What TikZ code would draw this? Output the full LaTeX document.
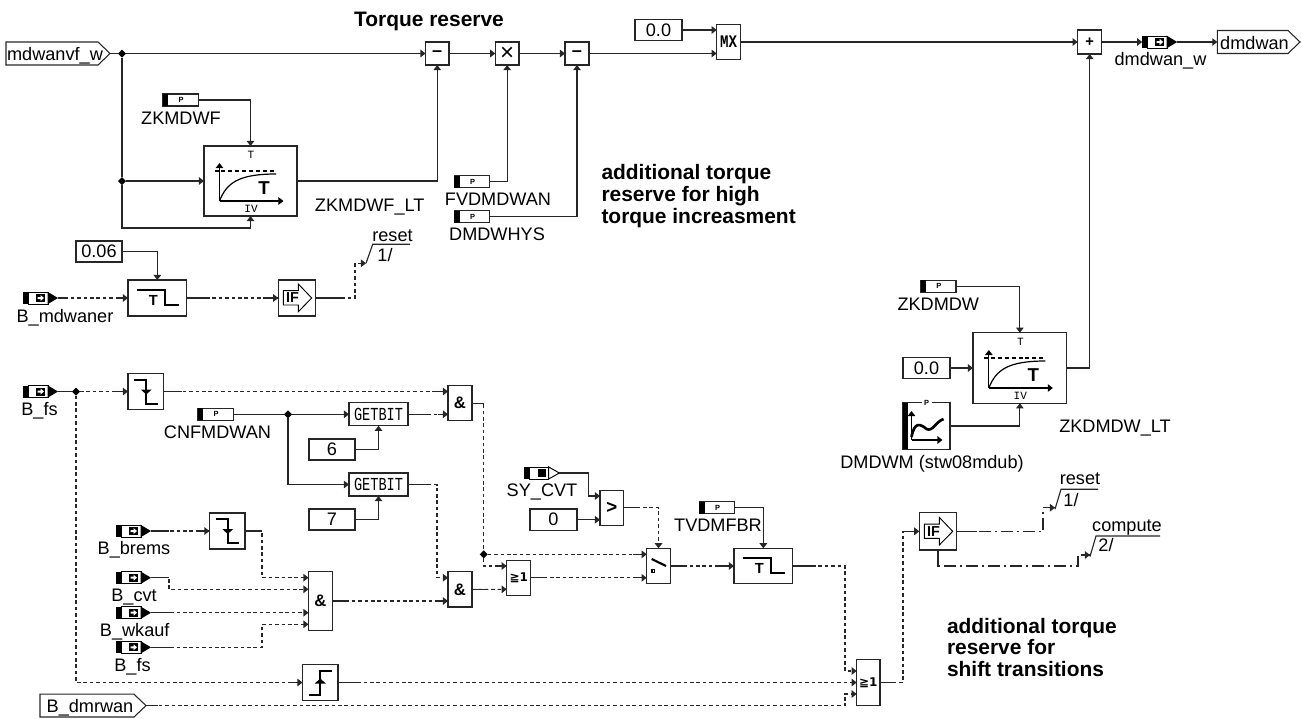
\documentclass[tikz,border=0pt]{standalone}
\usepackage{graphicx}
\usepackage{fontspec}
\setmainfont{Liberation Sans}
\newfontfamily\monof{Liberation Mono}
\newfontfamily\dvf{DejaVu Sans}
\usetikzlibrary{arrows.meta,shapes.geometric}
\def\pxu{0.75pt}
\tikzset{
  wire/.style={line width=0.85pt,draw=black!85},
  arr/.style={-{Triangle[length=3.8pt,width=5.6pt]}},
  dsh/.style={wire,dash pattern=on 2.7pt off 2.1pt},
  dlab/.style={inner sep=0pt,outer sep=0pt,anchor=base,font=\fontsize{13.6pt}{16pt}\selectfont},
  btxt/.style={inner sep=0pt,outer sep=0pt,anchor=base west,align=left,font=\fontsize{15.7pt}{16.3pt}\selectfont\bfseries},
  box/.style={draw=black!85,line width=0.85pt,inner sep=0pt,outer sep=0pt,fill=white,font=\fontsize{13.6pt}{16pt}\selectfont},
  nobox/.style={inner sep=0pt,outer sep=0pt,minimum width=35*\pxu,minimum height=12*\pxu},
  jn/.style={diamond,fill=black,inner sep=0pt,outer sep=0pt,minimum width=8*\pxu,minimum height=8*\pxu},
  tiny glyph/.style={inner sep=0pt,outer sep=0pt},
  thk/.style={line width=1.5pt,draw=black},
  lbl/.style={inner sep=0pt,outer sep=0pt,font=\fontsize{8.3pt}{10pt}\selectfont\monof}
}
\newcommand\gbt{\fontsize{10.2pt}{12pt}\selectfont\monof\scalebox{1}[1.35]{GETBIT}}
\newcommand\ampg{\fontsize{12.5pt}{13pt}\selectfont\bfseries\&}
% rectangle block: name x1 y1 x2 y2 content
\newcommand\blk[6]{\node[box,minimum width={(#4-#2)*\pxu},minimum height={(#5-#3)*\pxu}] (#1) at ({(#2+#4)/2},{(#3+#5)/2}) {#6};}
% text label: name cx baseline text
\newcommand\lab[4]{\node[dlab] (#1) at (#2,#3) {#4};}
% parameter symbol
\newcommand\parm[3]{\node[box,minimum width=35.5*\pxu,minimum height=12*\pxu] (#1) at (#2,#3) {};
  \begin{scope}[shift={(#1.center)}]
    \fill[black] (-17.75,-6) rectangle (-12.5,6);
    \node[tiny glyph,font=\fontsize{5.6pt}{6pt}\selectfont\bfseries] (#1-p) at (0.5,0) {P};
  \end{scope}}
% variable symbol
\newcommand\varb[3]{\node[nobox] (#1) at (#2,#3) {};
  \begin{scope}[shift={(#1.center)}]
    \fill[black] (-17.5,-6) rectangle (-12.5,6);
    \draw[line width=0.7pt,fill=white] (-12.5,-6) rectangle (7.5,6);
    \fill[black] (7,-6.3) -- (17.5,0) -- (7,6.3) -- cycle;
    \fill[black] (-4.5,-4) rectangle (4.5,4);
    \fill[white] (-3,-1) -- (0,-1) -- (0,-3) -- (3.5,0) -- (0,3) -- (0,1) -- (-3,1) -- cycle;
  \end{scope}}
% outlined tag with pointed right end
\newcommand\tagg[5]{\node[inner sep=0pt,outer sep=0pt,minimum width={(#4-#2)*\pxu},minimum height={(#5-#3)*\pxu}] (#1) at ({(#2+#4)/2},{(#3+#5)/2}) {};
  \draw[line width=0.8pt,draw=black!85] (#1.north west) -- ([xshift=-9pt]#1.north east) -- (#1.east) -- ([xshift=-9pt]#1.south east) -- (#1.south west) -- cycle;}
% lag glyph
\newcommand\ltg[1]{\begin{scope}[shift={(#1.center)}]
   \draw[line width=0.8pt,arr] (-31,20) -- (-31,-18);
   \draw[line width=0.8pt,arr] (-31,20) -- (33,20);
   \draw[line width=0.8pt,dash pattern=on 3pt off 2.2pt] (-36,-10) -- (26,-10);
   \draw[line width=0.9pt] (-31,20) .. controls (-24,2) and (-12,-7) .. (25.5,-7);
   \node[tiny glyph,font=\fontsize{14pt}{14pt}\selectfont\bfseries] (#1-bt) at (13.5,7.5) {T};
   \node[lbl] (#1-t) at (0.5,-26) {T};
   \node[lbl] (#1-iv) at (0.5,28) {IV};
  \end{scope}}
% timer glyph
\newcommand\tmg[1]{\begin{scope}[shift={(#1.center)}]
   \draw[thk] (-20,-8) -- (8,-8) -- (8,7) -- (22,7);
   \node[tiny glyph,font=\fontsize{11pt}{11pt}\selectfont\bfseries] (#1-t) at (-4,2) {T};
  \end{scope}}
% falling / rising edge glyphs
\newcommand\fallg[1]{\begin{scope}[shift={(#1.center)}]
   \draw[thk] (-11.5,-12) -- (0.5,-12) -- (0.5,12) -- (12,12);
   \fill[black] (-5,-2) -- (6,-2) -- (0.5,3) -- cycle;
  \end{scope}}
\newcommand\riseg[1]{\begin{scope}[shift={(#1.center)}]
   \draw[thk] (-11.5,12) -- (0,12) -- (0,-12) -- (12,-12);
   \fill[black] (0,-4) -- (-5.5,1) -- (5.5,1) -- cycle;
  \end{scope}}
% IF glyph
\newcommand\ifg[1]{\begin{scope}[shift={(#1.center)}]
   \draw[line width=0.7pt] (-13.7,-7.3) -- (1.3,-7.3) -- (1.3,-14) -- (14.7,0) -- (1.3,13.7) -- (1.3,7) -- (-13.7,7) -- cycle;
   \node[tiny glyph,font=\fontsize{10.8pt}{11pt}\selectfont\bfseries] (#1-t) at (-4.5,0) {IF};
  \end{scope}}
% solid stubs at the start and end of a dashed horizontal wire
\newcommand\stb[4]{\draw[wire] (#1) -- ++(#2,0); \draw[wire] (#3) ++(-#4,0) -- (#3);}
\begin{document}
\begin{tikzpicture}[x=0.75pt,y=-0.75pt]
\useasboundingbox (0,0) rectangle (1302,718);

% ---------- top row
\tagg{mdw}{6}{42}{110}{65}
\node[dlab] (mdw-t) at (55,60) {mdwanvf\_w};
\node[jn] (j1) at (122,53.5) {};
\node[jn] (j2) at (122,181) {};
\blk{sub1}{425.5}{42}{449}{65}{\bfseries –}
\blk{mul}{495.3}{42}{519}{65}{\fontsize{18pt}{18pt}\selectfont ×}
\blk{sub2}{565}{42}{589}{65}{\bfseries –}
\blk{mx}{716.7}{24.5}{740.7}{59.5}{\fontsize{10.6pt}{12pt}\selectfont\monof\bfseries\scalebox{1}[1.25]{MX}}
\blk{c00}{635}{19.5}{682}{40.5}{0.0}
\coordinate (mx-a) at (716.7,30);
\coordinate (mx-b) at (716.7,53.5);
\blk{add}{1077.7}{30}{1101.7}{54}{\fontsize{11pt}{12pt}\selectfont\bfseries +}
\varb{dw}{1159.7}{42}
\lab{dw-l}{1160.5}{65.3}{dmdwan\_w}
\tagg{dwo}{1217.3}{30.5}{1300}{53.5}
\node[dlab] (dwo-t) at (1254.5,49) {dmdwan};
\node[btxt,anchor=base] (title) at (429,26) {Torque reserve};

\blk{lt}{204}{146}{297}{216}{}
\ltg{lt}
\parm{zkf}{180.5}{100}
\lab{zkf-l}{181}{124}{ZKMDWF}
\lab{lt-l}{369.7}{211}{ZKMDWF\_LT}
\parm{fv}{472}{181.5}
\lab{fv-l}{498}{205.7}{FVDMDWAN}
\parm{hy}{472}{216.7}
\lab{hy-l}{497}{240.5}{DMDWHYS}
\node[btxt] (note1) at (601.5,223) {additional torque\\reserve for high\\torque increasment};

\draw[wire] (mdw.east) -- (j1);
\draw[wire,arr] (j1) -- (sub1.west);
\draw[wire] (j1) -- (j2);
\draw[wire,arr] (j2) -- (lt.west);
\coordinate (lt-low) at (250.5,228);
\draw[wire,arr] (j2) |- (lt-low) -- (lt.south);
\draw[wire,arr] (zkf.east) -| (lt.north);
\draw[wire,arr] (lt.east) -| (sub1.south);
\draw[wire,arr] (sub1.east) -- (mul.west);
\draw[wire,arr] (mul.east) -- (sub2.west);
\draw[wire,arr] (fv.east) -| (mul.south);
\draw[wire,arr] (hy.east) -| (sub2.south);
\draw[wire,arr] (c00.east) -- (mx-a);
\draw[wire,arr] (sub2.east) -- (mx-b);
\draw[wire,arr] (mx.east) -- (add.west);
\draw[wire,arr] (add.east) -- (dw.west);
\draw[wire,arr] (dw.east) -- (dwo.west);

% ---------- reset line
\blk{c06}{76}{241}{122}{262}{0.06}
\varb{bm}{40.5}{298}
\lab{bm-l}{65}{322}{B\_mdwaner}
\blk{tm1}{128}{280}{186.7}{316}{}
\tmg{tm1}
\blk{if1}{278.3}{280}{315.7}{316}{}
\ifg{if1}
\coordinate (r1) at (366,263.3);
\draw[wire,arr] (c06.east) -| (tm1.north);
\draw[dsh,arr] (bm.east) -- (tm1.west);
\stb{bm.east}{10}{tm1.west}{12}
\draw[dsh,arr] (tm1.east) -- (if1.west);
\stb{tm1.east}{20}{if1.west}{15}
\draw[dsh,arr] (if1.east) -- ++(39.3,0) |- (r1);
\draw[wire] (if1.east) -- ++(28,0);
\draw[wire] (r1) -- (372.7,244.3) -- (410,244.3);
\lab{r1-t}{392.5}{241}{reset}
\lab{r1-n}{385}{261.5}{1/}

% ---------- right lag block
\blk{lt2}{973}{332.7}{1066.7}{403.3}{}
\ltg{lt2}
\parm{zkd}{938.3}{286.3}
\lab{zkd-l}{938.3}{310}{ZKDMDW}
\lab{lt2-l}{1115}{432}{ZKDMDW\_LT}
\blk{c0r}{903}{357.5}{950}{378.5}{0.0}
\blk{map}{903}{402.7}{950}{449.3}{}
\begin{scope}[shift={(map.center)}]
  \fill[black] (-23.5,-23.3) rectangle (-19,23.3);
  \node[tiny glyph,fill=white,inner xsep=2pt,font=\fontsize{5.6pt}{6pt}\selectfont\bfseries] (map-p) at (0.2,-23.3) {P};
  \draw[line width=1.1pt,arr] (-15,14) -- (-15,-15);
  \draw[line width=1.1pt,arr] (-15,14) -- (16,14);
  \draw[line width=2pt,draw=black] (-15,11) .. controls (-12,-5) and (-6,-2) .. (0,3) .. controls (6,6) and (9,-4) .. (17,-7);
\end{scope}
\lab{map-l}{932}{468}{DMDWM (stw08mdub)}
\draw[wire,arr] (zkd.east) -| (lt2.north);
\draw[wire,arr] (c0r.east) -- (lt2.west);
\draw[wire,arr] (map.east) -| (lt2.south);
\draw[wire,arr] (lt2.east) -| (add.south);

% ---------- lower left
\varb{bf}{40.5}{391.5}
\lab{bf-l}{39.5}{415}{B\_fs}
\node[jn] (j3) at (76,391.5) {};
\blk{ed1}{128}{373.5}{163.5}{409.5}{}
\fallg{ed1}
\blk{and1}{448}{385.5}{472}{420.7}{\ampg}
\coordinate (a1a) at (448,391.5);
\coordinate (a1b) at (448,414.3);
\parm{cnf}{215.5}{414.3}
\lab{cnf-l}{217.5}{438}{CNFMDWAN}
\node[jn] (j4) at (288,414.3) {};
\blk{gb1}{349}{402.8}{408}{425.8}{\gbt}
\blk{gb2}{349}{473}{408}{496}{\gbt}
\blk{c6}{309}{439}{355}{460}{6}
\blk{c7}{309}{509}{355}{530}{7}
\draw[wire] (bf.east) -- (j3);
\draw[dsh,arr] (j3) -- (ed1.west);
\stb{j3}{6}{ed1.west}{14}
\draw[dsh,arr] (ed1.east) -- (a1a);
\stb{ed1.east}{18}{a1a}{12}
\draw[wire] (cnf.east) -- (j4);
\draw[wire,arr] (j4) -- (gb1.west);
\draw[wire,arr] (j4) |- (gb2.west);
\draw[dsh,arr] (gb1.east) -- (a1b);
\stb{gb1.east}{20}{a1b}{10}
\draw[wire,arr] (c6.east) -| (gb1.south);
\draw[wire,arr] (c7.east) -| (gb2.south);

\varb{bb}{133.5}{531}
\lab{bb-l}{134}{554}{B\_brems}
\blk{ed2}{209.5}{513}{245}{549}{}
\fallg{ed2}
\varb{bc}{133.5}{577.7}
\lab{bc-l}{134}{601.7}{B\_cvt}
\varb{bw}{133.5}{612.7}
\lab{bw-l}{134.7}{636}{B\_wkauf}
\varb{bf2}{133.5}{647.3}
\lab{bf2-l}{132.5}{671}{B\_fs}
\blk{big}{308.5}{571.7}{332.5}{630.3}{\ampg}
\coordinate (ba) at (308.5,577.7);
\coordinate (bb2) at (308.5,589.3);
\coordinate (bc2) at (308.5,612.7);
\coordinate (bd) at (308.5,624.3);
\blk{and2}{448}{571.7}{472}{607}{\ampg}
\coordinate (a2a) at (448,577.7);
\coordinate (a2b) at (448,601);
\draw[dsh,arr] (bb.east) -- (ed2.west);
\stb{bb.east}{18}{ed2.west}{14}
\draw[dsh,arr] (ed2.east) -- ++(17,0) |- (ba);
\draw[wire] (ed2.east) -- ++(17,0);
\draw[wire] (ba) ++(-8,0) -- (ba);
\draw[dsh,arr] (bc.east) -- ++(18,0) |- (bb2);
\draw[wire] (bc.east) -- ++(18,0);
\draw[dsh,arr] (bw.east) -- (bc2);
\draw[wire] (bw.east) -- ++(20,0);
\draw[dsh,arr] (bf2.east) -- ++(111,0) |- (bd);
\draw[wire] (bf2.east) -- ++(20,0);
\draw[dsh,arr] (big.east) -- (a2b);
\stb{big.east}{14}{a2b}{12}
\draw[dsh,arr] (gb2.east) -- ++(29,0) |- (a2a);
\draw[wire] (gb2.east) -- ++(20,0);

% ---------- middle
\node[jn] (j5) at (483.7,554.3) {};
\blk{or1}{506.7}{560.3}{530.7}{595.3}{\fontsize{9pt}{10pt}\selectfont\dvf\bfseries ≧1}
\coordinate (o1a) at (506.7,566);
\coordinate (o1b) at (506.7,589.3);
\blk{sw}{646.7}{548.3}{670.3}{583.7}{}
\begin{scope}[shift={(sw.center)}]
  \draw[line width=1.6pt,draw=black] (-6.8,-7) -- (7.5,0);
  \draw[line width=0.8pt] (-6.5,3.8) rectangle (-3.8,6.5);
\end{scope}
\coordinate (swa) at (646.7,554.3);
\coordinate (swb) at (646.7,577.8);
\node[inner sep=0pt,outer sep=0pt,minimum width=35.3*\pxu,minimum height=12*\pxu] (sy) at (541.7,473) {};
\begin{scope}[shift={(sy.center)}]
  \fill[black] (-17.6,-6) rectangle (-12.6,6);
  \draw[line width=0.7pt] (-12.6,-6) rectangle (7,6);
  \draw[line width=0.7pt,fill=white] (7,-6) -- (17.6,0) -- (7,6) -- cycle;
  \fill[black] (-4,-4) rectangle (4.5,4);
\end{scope}
\lab{sy-l}{542}{496}{SY\_CVT}
\blk{c0}{530}{509}{577}{530.4}{0}
\blk{gt}{600}{490.3}{623.7}{525.3}{\fontsize{14pt}{14pt}\selectfont\bfseries >}
\coordinate (gta) at (600,496);
\coordinate (gtb) at (600,519.7);
\parm{tv}{717}{507.7}
\lab{tv-l}{718}{531.3}{TVDMFBR}
\blk{tm2}{734}{548.3}{792.7}{583.7}{}
\tmg{tm2}
\blk{orb}{856.7}{659.3}{880}{705.7}{\fontsize{9pt}{10pt}\selectfont\dvf\bfseries ≧1}
\coordinate (oba) at (856.7,671);
\coordinate (obb) at (856.7,682.5);
\coordinate (obc) at (856.7,694);
\blk{ed3}{302.5}{664.5}{338}{700.5}{}
\riseg{ed3}
\tagg{dmr}{40}{694.2}{146}{717}
\node[dlab] (dmr-t) at (90,712) {B\_dmrwan};

\draw[dsh] (and1.east) -| (j5);
\draw[wire] (and1.east) -- ++(11.7,0);
\draw[dsh,arr] (j5) -- (swa);
\draw[wire] (swa) ++(-14,0) -- (swa);
\draw[dsh,arr] (j5) |- (o1a);
\draw[wire] (o1a) ++(-12,0) -- (o1a);
\draw[dsh,arr] (and2.east) -- (o1b);
\draw[wire] (and2.east) -- ++(15,0);
\draw[dsh,arr] (or1.east) -- (swb);
\stb{or1.east}{15}{swb}{14}
\draw[wire,arr] (sy.east) -- ++(29,0) |- (gta);
\draw[wire,arr] (c0.east) -- (gtb);
\draw[dsh,arr] (gt.east) -| (sw.north);
\draw[wire] (gt.east) -- ++(15,0);
\draw[wire,arr] (tv.east) -| (tm2.north);
\draw[dsh,arr] (sw.east) -- (tm2.west);
\stb{sw.east}{16}{tm2.west}{18}
\draw[dsh,arr] (tm2.east) -- ++(52.3,0) |- (oba);
\draw[wire] (tm2.east) -- ++(20,0);
\draw[dsh,arr] (j3) |- (ed3.west);
\draw[wire] (ed3.west) ++(-14,0) -- (ed3.west);
\draw[dsh,arr] (ed3.east) -- (obb);
\draw[wire] (ed3.east) -- ++(20,0);
\draw[dsh,arr] (dmr.east) -- ++(699,0) |- (obc);
\draw[wire] (dmr.east) -- ++(12,0);

% ---------- right lower
\blk{if2}{919.3}{512.7}{956.7}{550}{}
\ifg{if2}
\node[btxt] (note2) at (947,676.5) {additional torque\\reserve for\\shift transitions};
\coordinate (r2) at (1055,507.7);
\coordinate (r3) at (1090,555);
\coordinate (r3k) at (1078,566);
\draw[dsh,arr] (orb.east) -- ++(23,0) |- (if2.west);
\draw[wire] (orb.east) -- ++(14,0);
\draw[wire] (if2.west) ++(-14,0) -- (if2.west);
\draw[wire,arr,dash pattern=on 9pt off 3pt on 1.5pt off 3pt] (if2.east) -- ++(86.3,0) |- (r2);
\draw[wire] (if2.east) -- ++(20,0);
\draw[wire] (r2) ++(-8,0) -- (r2);
\draw[wire,arr,dash pattern=on 9pt off 3pt on 1.5pt off 3pt] (if2.south) |- (r3k) |- (r3);
\draw[wire] (if2.south) -- ++(0,16);
\draw[wire] (r3) ++(-8,0) -- (r3);
\draw[wire] (r2) ++(0,1.5) -- ++(6,-20) -- ++(37,0);
\draw[wire] (r3) ++(0,1.5) -- ++(6,-20.5) -- ++(64,0);
\lab{r2-t}{1080}{484}{reset}
\lab{r2-n}{1071}{506}{1/}
\lab{r3-t}{1127}{531.7}{compute}
\lab{r3-n}{1106}{551.7}{2/}
\end{tikzpicture}
\end{document}
